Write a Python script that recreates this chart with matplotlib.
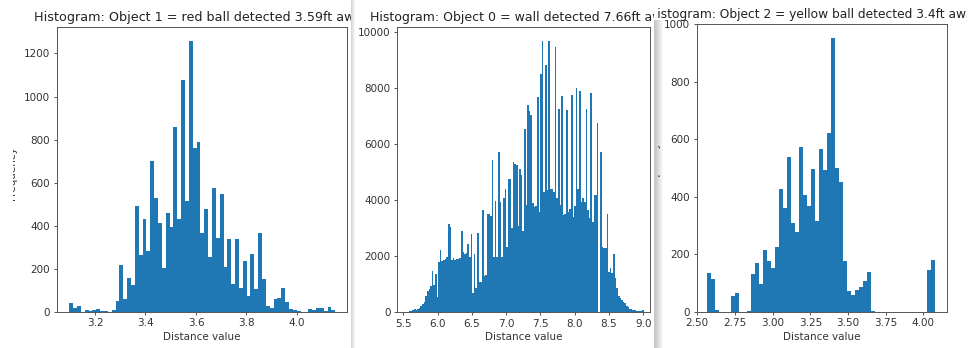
import numpy as np
import matplotlib
matplotlib.use("Agg")
import matplotlib.pyplot as plt
from matplotlib.patches import Rectangle
from matplotlib.transforms import Bbox, TransformedBbox

# ---- histogram bin counts (equal-width bins over each value range) ----
red_ball_counts = [40, 18, 28, 0, 8, 5, 8, 12, 5, 5,
                   0, 8, 50, 220, 60, 160, 125, 490, 265, 430,
                   285, 700, 530, 415, 205, 460, 395, 860, 430, 1075,
                   515, 1260, 760, 790, 365, 480, 255, 575, 345, 550,
                   210, 340, 130, 340, 110, 235, 75, 270, 105, 365,
                   155, 30, 18, 60, 65, 110, 45, 15, 8, 3,
                   0, 0, 12, 10, 18, 20, 5, 22, 8]
red_ball_range = (3.098, 4.152)

wall_counts = [0, 5, 10, 20, 30, 40, 80, 110, 100, 130,
               170, 220, 280, 380, 580, 760, 830, 950, 1490, 980,
               1380, 560, 1780, 2220, 1840, 1880, 1890, 1970, 3150, 3050,
               1870, 1950, 1870, 1920, 1900, 1940, 2910, 2160, 2100, 2120,
               2430, 1960, 2790, 680, 2100, 860, 2820, 1090, 1100, 3670,
               1310, 1350, 3530, 3500, 3450, 5460, 1990, 3980, 1990, 5730,
               3950, 1990, 4100, 4420, 2340, 4780, 4760, 3000, 5370, 5310,
               5260, 3100, 5110, 4900, 2900, 6540, 3830, 7420, 7180, 7040,
               3890, 3770, 3800, 7680, 3590, 8530, 9690, 4300, 8850, 4360,
               9710, 4420, 4400, 4300, 9480, 4070, 7250, 3830, 7730, 3470,
               3500, 7220, 3590, 3700, 7780, 3410, 3800, 8010, 4420, 7900,
               3950, 4070, 3950, 7280, 3650, 3380, 7850, 3230, 4190, 4190,
               6780, 0, 5730, 2340, 2310, 2300, 3530, 1450, 1570, 1390,
               2070, 1210, 860, 600, 520, 440, 360, 320, 220, 180,
               130, 110, 90, 70, 60, 50, 40, 40, 70, 20]
wall_range = (5.49, 9.03)

yellow_ball_counts = [134, 113, 7, 0, 0, 0, 55, 67, 0, 0,
                      3, 133, 170, 97, 215, 178, 152, 225, 427, 360,
                      537, 308, 278, 573, 407, 368, 497, 315, 565, 493,
                      620, 952, 500, 452, 178, 72, 60, 75, 88, 108,
                      138, 3, 0, 0, 0, 0, 0, 0, 0, 0,
                      0, 0, 0, 0, 0, 145, 180]
yellow_ball_range = (2.566, 4.075)

red_ball_xticks = [3.2, 3.4, 3.6, 3.8, 4.0]
red_ball_yticks = [0, 200, 400, 600, 800, 1000, 1200]
wall_xticks = [5.5, 6.0, 6.5, 7.0, 7.5, 8.0, 8.5, 9.0]
wall_yticks = [0, 2000, 4000, 6000, 8000, 10000]
yellow_ball_xticks = [2.50, 2.75, 3.00, 3.25, 3.50, 3.75, 4.00]
yellow_ball_yticks = [0, 200, 400, 600, 800, 1000]

titles = ["Histogram: Object 1 = red ball detected 3.59ft away",
          "Histogram: Object 0 = wall detected 7.66ft away",
          "Histogram: Object 2 = yellow ball detected 3.4ft away"]
x_label = "Distance value"
y_label = "Frequency"

# ---- figure, laid out in pixels ----
W, H = 973, 348
fig = plt.figure(figsize=(W / 100, H / 100), dpi=100)
fig.patch.set_facecolor("white")


def px_rect(left, top, right, bottom):
    return [left / W, 1 - bottom / H, (right - left) / W, (bottom - top) / H]


def clip_to(text, x0, x1):
    box = TransformedBbox(Bbox.from_extents(x0 / W, 0, x1 / W, 1), fig.transFigure)
    text.set_clip_box(box)
    text.set_clip_on(True)


def window(x0, z, shade, shade_top=0):
    fig.add_artist(Rectangle((x0 / W, 0), 1 - x0 / W, 1, transform=fig.transFigure,
                             facecolor="white", edgecolor="none", zorder=z))
    for i, c in enumerate(shade):
        fig.add_artist(Rectangle(((x0 + i) / W, 0), 1 / W, 1 - shade_top / H,
                                 transform=fig.transFigure, facecolor=c,
                                 edgecolor="none", zorder=z + 0.5))


def panel(rect, counts, span, xlim, ylim, xticks, yticks, title, title_size, z):
    ax = fig.add_axes(rect)
    ax.set_zorder(z)
    edges = np.linspace(span[0], span[1], len(counts) + 1)
    centers = (edges[:-1] + edges[1:]) / 2
    ax.hist(centers, bins=edges, weights=counts, color="#1f77b4")
    ax.set_xlim(*xlim)
    ax.set_ylim(*ylim)
    ax.set_xticks(xticks)
    ax.set_yticks(yticks)
    for s in ax.spines.values():
        s.set_linewidth(0.7)
        s.set_color("#555555")
    ax.tick_params(length=2.4, width=0.7, color="#555555", labelsize=7.5,
                   labelcolor="#333333", pad=2.2)
    ax.set_title(title, fontsize=title_size, pad=4.5, color="#222222")
    ax.set_xlabel(x_label, fontsize=7.5, labelpad=2.5, color="#333333")
    return ax


ax1 = panel(px_rect(56.5, 27, 346.7, 312), red_ball_counts, red_ball_range,
            (3.0475, 4.197), (0, 1323), red_ball_xticks, red_ball_yticks,
            titles[0], 9.2, 0)
ax1.set_ylabel(y_label, fontsize=7.5, color="#333333")
ax1.yaxis.set_label_coords(-0.1344, 0.488)
clip_to(ax1.yaxis.label, 12.5, 352)

window(351, 1, ["#d6d6d6", "#e0e0e0", "#eaeaea", "#f4f4f4"])

ax2 = panel(px_rect(397, 27, 650, 312.3), wall_counts, wall_range,
            (5.408, 9.097), (0, 10196), wall_xticks, wall_yticks,
            titles[1], 9.0, 2)

window(654, 3, ["#c6c6c6", "#c9c9c9", "#cecece", "#d5d5d5", "#dcdcdc",
                "#e4e4e4", "#ebebeb", "#f2f2f2", "#f8f8f8"], shade_top=20)

ax3 = panel(px_rect(696.7, 24, 946.7, 312), yellow_ball_counts, yellow_ball_range,
            (2.496, 4.155), (0, 1000), yellow_ball_xticks, yellow_ball_yticks,
            titles[2], 8.85, 4)
ax3.title.set_x(0.4724)
ax3.set_ylabel(y_label, fontsize=7.5, color="#333333")
ax3.yaxis.set_label_coords(-0.1468, 0.5)
clip_to(ax3.yaxis.label, 657.5, W)
clip_to(ax3.title, 656, 967)

fig.savefig("out.png", dpi=100, facecolor="white")
